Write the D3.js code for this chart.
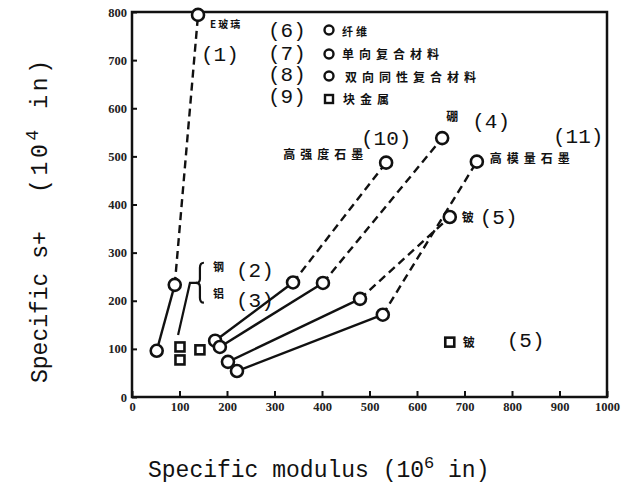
<!DOCTYPE html>
<html><head><meta charset="utf-8">
<script src="https://cdn.jsdelivr.net/npm/d3@7"></script>
<style>html,body{margin:0;padding:0;background:#fff}</style>
</head><body>
<svg id="c" width="623" height="486"></svg>
<script>
// ---------- data ----------
const xTicks = [0,100,200,300,400,500,600,700,800,900,1000];
const yTicks = [0,100,200,300,400,500,600,700,800];

// each series: [quasi-isotropic composite, unidirectional composite, fiber]
const seriesNames = ["(1)", "(10)", "(4)", "(5)", "(11)"];
const glassX = [52, 90, 139],   glassY = [96, 233, 794];
const hsGraphX = [175, 339, 535], hsGraphY = [117, 238, 487];
const boronX = [185, 402, 653],  boronY = [104, 237, 538];
const beryX = [202, 480, 669],   beryY = [73, 204, 374];
const hmGraphX = [221, 528, 726], hmGraphY = [54, 171, 489];

// bulk metals (squares)
const bulkX = [101, 101, 143, 669];
const bulkY = [104, 77, 98, 114];

// ---------- chart ----------
const svg = d3.select("#c");
const x = d3.scaleLinear([0,1000],[132,607]);
const y = d3.scaleLinear([0,800],[397,12]);

const ink = "#111";

// frame
svg.append("rect").attr("x",x(0)).attr("y",y(800))
  .attr("width",x(1000)-x(0)).attr("height",y(0)-y(800))
  .attr("fill","none").attr("stroke",ink).attr("stroke-width",2.5);

const xa = svg.append("g").attr("transform",`translate(0,${y(0)})`)
  .call(d3.axisBottom(x).tickValues(xTicks).tickFormat(d3.format("d")).tickSizeInner(-6).tickSizeOuter(0).tickPadding(5));
const ya = svg.append("g").attr("transform",`translate(${x(0)},0)`)
  .call(d3.axisLeft(y).tickValues(yTicks).tickFormat(d3.format("d")).tickSizeInner(-5).tickSizeOuter(0).tickPadding(5));
[xa,ya].forEach(a=>{
  a.select(".domain").remove();
  a.selectAll("line").attr("stroke",ink).attr("stroke-width",2);
  a.selectAll("text").attr("font-family","'Liberation Serif', serif")
    .attr("font-weight","bold").attr("font-size",12.5).attr("fill","#222");
});

// series lines
const series = [
  [glassX, glassY], [hsGraphX, hsGraphY], [boronX, boronY], [beryX, beryY], [hmGraphX, hmGraphY]
];
const lineG = svg.append("g");
series.forEach(([xs,ys])=>{
  // solid: composite -> unidirectional
  lineG.append("line").attr("x1",x(xs[0])).attr("y1",y(ys[0]))
    .attr("x2",x(xs[1])).attr("y2",y(ys[1]))
    .attr("stroke",ink).attr("stroke-width",2.4);
  // dashed: unidirectional -> fiber
  lineG.append("line").attr("x1",x(xs[1])).attr("y1",y(ys[1]))
    .attr("x2",x(xs[2])).attr("y2",y(ys[2]))
    .attr("stroke",ink).attr("stroke-width",2.4).attr("stroke-dasharray","8,5");
});

// leader from bulk steel/aluminium squares to brace
const leader = d3.line()([[x(97),y(129)],[x(122),y(237)],[x(137),y(237)]]);
svg.append("path").attr("d",leader).attr("fill","none").attr("stroke",ink).attr("stroke-width",2.2);
// brace
const bx = x(143), bt = y(279), bb = y(196), bm = y(237);
svg.append("path").attr("d",
  `M${bx+4},${bt} Q${bx},${bt} ${bx},${bt+5} L${bx},${bm-4} Q${bx},${bm} ${bx-4},${bm} Q${bx},${bm} ${bx},${bm+4} L${bx},${bb-5} Q${bx},${bb} ${bx+4},${bb}`)
  .attr("fill","none").attr("stroke",ink).attr("stroke-width",2.2);

// points
const ptG = svg.append("g");
series.forEach(([xs,ys])=>{
  xs.forEach((v,i)=>{
    ptG.append("circle").attr("cx",x(v)).attr("cy",y(ys[i])).attr("r",6)
      .attr("fill","#fff").attr("stroke",ink).attr("stroke-width",2.6);
  });
});
bulkX.forEach((v,i)=>{
  ptG.append("rect").attr("x",x(v)-4.5).attr("y",y(bulkY[i])-4.5).attr("width",9).attr("height",9)
    .attr("fill","#fff").attr("stroke",ink).attr("stroke-width",2.6);
});

// ---------- text ----------
const mono = "'Liberation Mono', 'DejaVu Sans Mono', monospace";
const cjk = "'Noto Sans CJK SC', sans-serif";
function num(t, px, py, size=21){
  svg.append("text").attr("x",px).attr("y",py).text(t)
    .attr("font-family",mono).attr("font-size",size).attr("fill",ink);
}
function cn(t, px, py, size=12, ls=4){
  svg.append("text").attr("x",px).attr("y",py).text(t)
    .attr("font-family",cjk).attr("font-weight","bold").attr("font-size",size)
    .attr("letter-spacing",ls).attr("fill",ink);
}

// legend
num("(6)", 268, 37); num("(7)", 268, 60); num("(8)", 268, 81); num("(9)", 268, 103);
svg.append("circle").attr("cx",329).attr("cy",30).attr("r",4.5).attr("fill","#fff").attr("stroke",ink).attr("stroke-width",2.4);
svg.append("circle").attr("cx",329).attr("cy",54).attr("r",4.5).attr("fill","#fff").attr("stroke",ink).attr("stroke-width",2.4);
svg.append("circle").attr("cx",329).attr("cy",76).attr("r",4.5).attr("fill","#fff").attr("stroke",ink).attr("stroke-width",2.4);
svg.append("rect").attr("x",325).attr("y",95).attr("width",8).attr("height",8).attr("fill","#fff").attr("stroke",ink).attr("stroke-width",2.4);
cn("纤维", 342, 36, 11, 3);
cn("单向复合材料", 342, 59, 12, 5);
cn("双向同性复合材料", 345, 82, 12, 5);
cn("块金属", 343, 104, 12, 5);

// series labels
cn("E玻璃", 210, 28, 10, 2);
num("(1)", 201, 61);
cn("钢", 213, 271, 11, 0); num("(2)", 236, 277);
cn("铝", 213, 298, 11, 0); num("(3)", 236, 307);
num("(10)", 361, 145);
cn("高强度石墨", x(hsGraphX[2])-103, y(hsGraphY[2])-4, 12, 5);
cn("硼", x(boronX[2])+4, y(boronY[2])-17, 12, 0); num("(4)", x(boronX[2])+30, y(boronY[2])-10);
num("(11)", 553, 143);
cn("高模量石墨", x(hmGraphX[2])+13, y(hmGraphY[2])+1, 12, 5);
cn("铍", x(beryX[2])+12, y(beryY[2])+5, 12, 0); num("(5)", x(beryX[2])+30, y(beryY[2])+7);
cn("铍", x(bulkX[3])+13, y(bulkY[3])+5, 12, 0); num("(5)", x(bulkX[3])+57, y(bulkY[3])+5);

// axis titles
const xt = svg.append("text").attr("x",148).attr("y",477)
  .attr("font-family",mono).attr("font-size",23).attr("fill",ink);
xt.append("tspan").text("Specific modulus (10");
xt.append("tspan").text("6").attr("font-size",17).attr("dy",-9);
xt.append("tspan").text(" in)").attr("dy",9);

svg.append("text").attr("transform","translate(47,383) rotate(-90)")
  .attr("font-family",mono).attr("font-size",23).attr("fill",ink).text("Specific s+");
const yt = svg.append("text").attr("transform","translate(47,193) rotate(-90)")
  .attr("font-family",mono).attr("font-size",23).attr("fill",ink)
  .attr("textLength",133).attr("lengthAdjust","spacing");
yt.append("tspan").text("(10");
yt.append("tspan").text("4").attr("font-size",18).attr("dy",-9);
yt.append("tspan").text(" in)").attr("dy",9);
</script>
</body></html>
